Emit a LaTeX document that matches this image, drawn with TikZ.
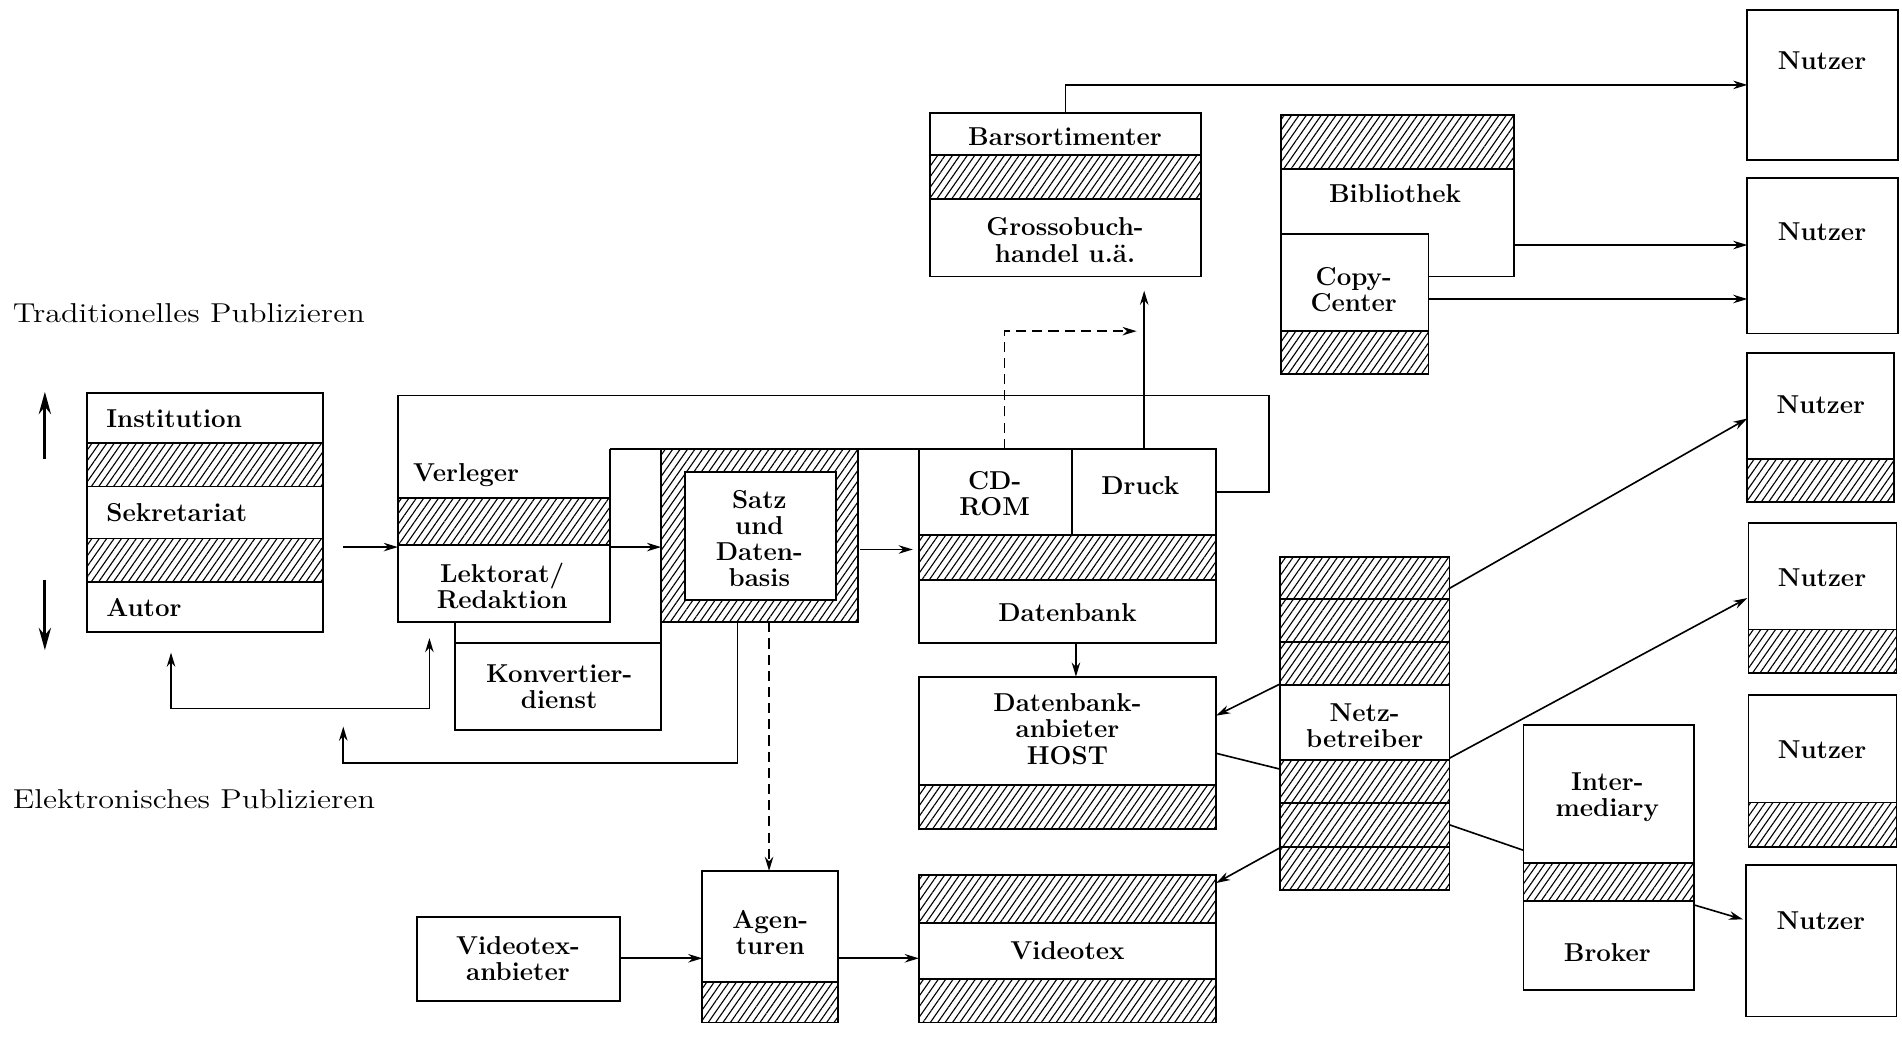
\documentclass[tikz,border=0pt]{standalone}
\usepackage{graphicx}
\usetikzlibrary{arrows.meta,patterns.meta,fit}

\tikzset{every picture/.style={line width=0.8pt}}
\tikzset{
  box/.style={draw, rectangle, inner sep=0pt, outer sep=0pt, line width=0.9pt},
  hatchbox/.style={box, pattern={Lines[angle=55,distance=3pt,line width=0.55pt]}},
  whitebox/.style={box, fill=white},
  lbl/.style={font=\fontsize{12.8}{13}\selectfont\bfseries, align=center, inner sep=0pt},
  side/.style={font=\fontsize{13.5}{14}\selectfont, anchor=west, inner sep=0pt},
  arr/.style={-{Stealth[length=7pt,width=4.2pt]}},
  dasharr/.style={arr, dash pattern=on 5pt off 3pt},
  bigarr/.style={-{Stealth[length=11pt,width=6pt]}, line width=1.6pt},
}

\begin{document}
\begin{tikzpicture}[x=0.6pt,y=0.6pt,yscale=-1,xscale=1]
	\useasboundingbox (0,0) rectangle (1568,866);

	% Text Node
	\node[side] (trad) at (10,258) {\scalebox{1.18}[1]{Traditionelles Publizieren}};
	\node[side] (elek) at (10,659) {\scalebox{1.18}[1]{Elektronisches Publizieren}};
	\coordinate (up0) at (37,378);
	\coordinate (up1) at (37,323);
	\coordinate (dn0) at (37,478);
	\coordinate (dn1) at (37,536);
	\draw[bigarr] (up0) -- (up1);
	\draw[bigarr] (dn0) -- (dn1);

	%Institution / Sekretariat / Autor
	\node[box, fit={(72,324) (266,521)}] (inst) {};
	\node[hatchbox, fit={(72,365.5) (266,401)}] (inst-h1) {};
	\node[hatchbox, fit={(72,444) (266,479.5)}] (inst-h2) {};
	\node[lbl, anchor=west] (inst-t) at (87,345) {Institution};
	\node[lbl, anchor=west] (sekr-t) at (87,423) {Sekretariat};
	\node[lbl, anchor=west] (autor-t) at (87,501) {Autor};

	%Verleger
	\draw[line width=0.9pt] (503,370) -- (503,513) -- (328,513) -- (328,326) -- (1046,326) |- (1002.5,405.5);
	\node[hatchbox, fit={(328,410.7) (503,449.3)}] (verl-h) {};
	\node[lbl, anchor=west] (verl-t) at (340,392) {Verleger};
	\node[lbl] (lekt-t) at (414,483) {Lektorat/\\Redaktion};

	%Konvertierdienst
	\node[box, fit={(375,530) (545,602)}] (konv) {};
	\node[lbl] (konv-t) at (461,566) {Konvertier-\\dienst};

	%Satz und Datenbasis
	\node[hatchbox, fit={(545,370) (707,513)}] (satz) {};
	\node[whitebox, fit={(565,389) (689,494.6)}] (satz-in) {};
	\node[lbl] (satz-t) at (626,444) {Satz\\und\\Daten-\\basis};
	\draw[line width=0.9pt] (konv.north west) -- (konv.north west |- satz.south);
	\draw[line width=0.9pt] (konv.north east) -- (satz.south west);
	\draw[line width=0.9pt] (503,370) -- (satz.north west);

	%CD-ROM / Druck / Datenbank
	\node[box, fit={(757.5,370) (1002.5,530.4)}] (dbk) {};
	\node[box, fit={(757.5,370) (884,441)}] (cd) {};
	\node[box, fit={(884,370) (1002.5,441)}] (druck) {};
	\node[hatchbox, fit={(757.5,441) (1002.5,478.2)}] (dbk-h) {};
	\node[lbl] (cd-t) at (820,407) {CD-\\ROM};
	\node[lbl] (druck-t) at (940,400) {Druck};
	\node[lbl] (dbk-t) at (880,505) {Datenbank};
	\draw[line width=0.9pt] (satz.north east) -- (dbk.north west);

	%Datenbankanbieter HOST
	\node[box, fit={(757.5,557.8) (1002.5,683.5)}] (host) {};
	\node[hatchbox, fit={(757.5,647) (1002.5,683.5)}] (host-h) {};
	\node[lbl] (host-t) at (880,601) {Datenbank-\\anbieter\\HOST};

	%Videotex
	\node[box, fit={(757.5,721.4) (1002.5,843)}] (vtx) {};
	\node[hatchbox, fit={(757.5,721.4) (1002.5,760.7)}] (vtx-h1) {};
	\node[hatchbox, fit={(757.5,807.4) (1002.5,843)}] (vtx-h2) {};
	\node[lbl] (vtx-t) at (880,784) {Videotex};

	%Agenturen, Videotexanbieter
	\node[box, fit={(579,718) (691,843)}] (agen) {};
	\node[hatchbox, fit={(579,809.3) (691,843)}] (agen-h) {};
	\node[lbl] (agen-t) at (635,769) {Agen-\\turen};
	\node[box, fit={(344,756) (511,825)}] (vanb) {};
	\node[lbl] (vanb-t) at (427,790) {Videotex-\\anbieter};

	%Barsortimenter
	\node[box, fit={(767,93.4) (990,228)}] (bars) {};
	\node[hatchbox, fit={(767,127.8) (990,164.3)}] (bars-h) {};
	\node[lbl] (bars-t) at (878,113) {Barsortimenter};
	\node[lbl] (gross-t) at (878,198) {Grossobuch-\\handel u.\"a.};

	%Bibliothek, Copy-Center
	\node[fit={(1056,95) (1248,228)}, inner sep=0pt, outer sep=0pt] (bib) {};
	\node[box, fit={(1056,193.2) (1177.7,308.3)}] (copy) {};
	\draw[line width=0.9pt] (copy.north west) -- (bib.north west) -- (bib.north east) -- (bib.south east) -- (bib.south east -| copy.east);
	\node[hatchbox, fit={(1056,95) (1248,139.6)}] (bib-h) {};
	\node[hatchbox, fit={(1056,272.9) (1177.7,308.3)}] (copy-h) {};
	\node[lbl] (bib-t) at (1150,160) {Bibliothek};
	\node[lbl] (copy-t) at (1116,239) {Copy-\\Center};

	%Netzbetreiber
	\node[box, fit={(1055,459) (1195,734)}] (netz) {};
	\node[hatchbox, fit={(1055,459) (1195,494)}] (netz-h1) {};
	\node[hatchbox, fit={(1055,494) (1195,529)}] (netz-h2) {};
	\node[hatchbox, fit={(1055,529) (1195,564.5)}] (netz-h3) {};
	\node[hatchbox, fit={(1055,626.5) (1195,662)}] (netz-h4) {};
	\node[hatchbox, fit={(1055,662) (1195,698)}] (netz-h5) {};
	\node[hatchbox, fit={(1055,698) (1195,734)}] (netz-h6) {};
	\node[lbl] (netz-t) at (1125,598) {Netz-\\betreiber};

	%Intermediary / Broker
	\node[box, fit={(1256,598) (1396.5,816)}] (inter) {};
	\node[hatchbox, fit={(1256,711.5) (1396.5,742.5)}] (inter-h) {};
	\node[lbl] (inter-t) at (1325,657) {Inter-\\mediary};
	\node[lbl] (brok-t) at (1325,785) {Broker};

	%Nutzer
	\node[box, fit={(1440.5,8) (1565,132)}] (n1) {};
	\node[box, fit={(1440.5,147) (1565,275)}] (n2) {};
	\node[box, fit={(1440.5,291) (1561.5,414)}] (n3) {};
	\node[hatchbox, fit={(1440.5,378.5) (1561.5,414)}] (n3-h) {};
	\node[box, fit={(1441.5,431) (1563.5,555)}] (n4) {};
	\node[hatchbox, fit={(1441.5,519) (1563.5,555)}] (n4-h) {};
	\node[box, fit={(1441.5,573) (1563.5,698)}] (n5) {};
	\node[hatchbox, fit={(1441.5,661.5) (1563.5,698)}] (n5-h) {};
	\node[box, fit={(1439.5,713) (1563.5,838)}] (n6) {};
	\node[lbl] (n1-t) at (1502,50) {Nutzer};
	\node[lbl] (n2-t) at (1502,191) {Nutzer};
	\node[lbl] (n3-t) at (1501,334) {Nutzer};
	\node[lbl] (n4-t) at (1502,476) {Nutzer};
	\node[lbl] (n5-t) at (1502,618) {Nutzer};
	\node[lbl] (n6-t) at (1501,759) {Nutzer};

	%Straight Lines
	\coordinate (iv) at (283,451);
	\coordinate (vs) at (503,451);
	\coordinate (sd) at (709,453);
	\coordinate (dh) at (887,530.4);
	\coordinate (cdup) at (828,370);
	\coordinate (dd) at (937,273);
	\draw[arr] (iv) -- (iv -| verl-h.west);
	\draw[arr] (vs) -- (vs -| satz.west);
	\draw[arr, shorten >=3pt] (sd) -- (sd -| dbk.west);
	\draw[arr] (dh) -- (dh |- host.north);
	\draw[arr, shorten >=7pt] (druck.north) -- (druck.north |- bars.south);
	\draw[dasharr] (cdup) |- (dd);
	\draw[arr] (bars.north) |- (n1.west);

	\coordinate (bib-e) at (1248,202);
	\coordinate (cp-e) at (1177.7,246.5);
	\draw[arr] (bib-e) -- (bib-e -| n2.west);
	\draw[arr] (cp-e) -- (cp-e -| n2.west);

	% feedback lines
	\coordinate (fb1a) at (141,538);
	\coordinate (fb1b) at (354,584);
	\coordinate (fb1c) at (354,526);
	\draw[{Stealth[length=7pt,width=4.2pt]}-{Stealth[length=7pt,width=4.2pt]}] (fb1a) |- (fb1b) -- (fb1c);
	\coordinate (fb2a) at (608,513);
	\coordinate (fb2b) at (283,629);
	\coordinate (fb2c) at (283,599);
	\draw[arr] (fb2a) |- (fb2b) -- (fb2c);

	\coordinate (sa) at (634,513);
	\draw[dasharr] (sa) -- (sa |- agen.north);
	\coordinate (va) at (511,790);
	\draw[arr] (va) -- (va -| agen.west);
	\coordinate (av) at (691,790);
	\draw[arr] (av) -- (av -| vtx.west);

	% Netzbetreiber lines
	\coordinate (nz3) at (1195,485);
	\coordinate (nz3e) at (1440.5,345);
	\coordinate (nz4) at (1195,625);
	\coordinate (nz4e) at (1440.5,493);
	\coordinate (nzh) at (1055,564);
	\coordinate (nzhe) at (1002.5,590);
	\coordinate (hn) at (1002.5,621);
	\coordinate (hne) at (1055,634);
	\coordinate (nzv) at (1055,699);
	\coordinate (nzve) at (1002.5,728);
	\coordinate (ni) at (1195,680);
	\coordinate (nie) at (1256,701);
	\coordinate (bk) at (1396.5,746);
	\coordinate (bke) at (1437,758);
	\draw[arr] (nz3) -- (nz3e);
	\draw[arr] (nz4) -- (nz4e);
	\draw[arr] (nzh) -- (nzhe);
	\draw (hn) -- (hne);
	\draw[arr] (nzv) -- (nzve);
	\draw (ni) -- (nie);
	\draw[arr] (bk) -- (bke);

\end{tikzpicture}
\end{document}
